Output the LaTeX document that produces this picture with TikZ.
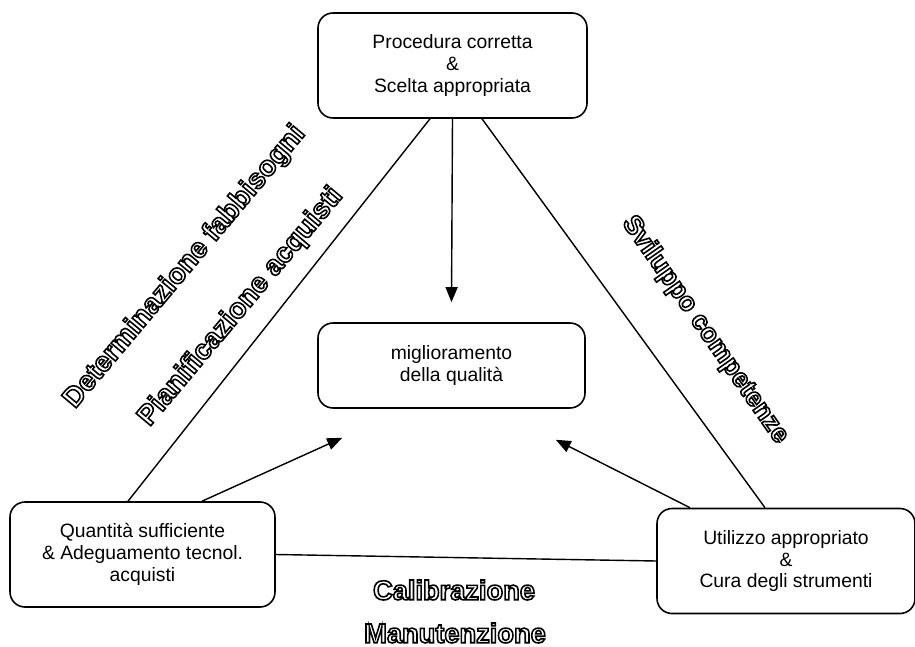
\documentclass[tikz,border=0pt]{standalone}
\usepackage{fontspec}
\setmainfont{Liberation Sans}
\usetikzlibrary{arrows.meta,positioning}
\newcommand{\hollow}[1]{\special{pdf:literal direct 1 Tr 0.9 w}#1\special{pdf:literal direct 0 Tr}}
\tikzset{
  box/.style={draw,rounded corners=0.3cm,line width=0.9pt,align=center,
    minimum height=2.1cm,font=\fontsize{11}{12.5}\selectfont},
  link/.style={line width=0.8pt},
  tip/.style={line width=0.8pt,-{Triangle[length=0.3cm,width=0.24cm]}},
  slogan/.style={font=\fontsize{16}{18}\selectfont\bfseries,inner sep=0pt}
}
\begin{document}
\begin{tikzpicture}
				\useasboundingbox (0,0) rectangle (18.3,12.92);
				\node[box,minimum width=5.38cm] (top) at (9.05,11.61) {Procedura corretta\\ \&\\ Scelta appropriata};
				\node[box,minimum width=5.34cm,minimum height=1.7cm] (mid) at (9.03,5.61) {miglioramento\\ della qualità};
				\node[box,minimum width=5.3cm] (left) at (2.85,1.83) {Quantità sufficiente\\ \& Adeguamento tecnol.\\ acquisti};
				\node[box,minimum width=5.16cm] (right) at (15.72,1.70) {Utilizzo appropriato\\ \&\\ Cura degli strumenti};
				\coordinate[above=0.4cm of mid] (tipv);
				\coordinate (tipl) at ([shift={(0.5,-0.58)}]mid.south west);
				\coordinate (tipr) at ([shift={(-0.6,-0.62)}]mid.south east);
				\draw [link] ([xshift=-0.45cm]top.south) to ([xshift=-0.29cm]left.north);
				\draw [link] ([xshift=0.59cm]top.south) to ([xshift=-0.42cm]right.north);
				\draw [link] (left.east) to (right.west);
				\draw [tip] (top.south) to (tipv);
				\draw [tip] ([xshift=1.19cm]left.north) to (tipl);
				\draw [tip] ([xshift=-1.92cm]right.north) to (tipr);
				\node[slogan,rotate=50] (need) at (3.7,7.58) {\hollow{Determinazione fabbisogni}};
				\node[slogan,rotate=50] (plan) at (4.82,6.78) {\hollow{Pianificazione acquisti}};
				\node[slogan,rotate=-55,font=\fontsize{15}{17}\selectfont\bfseries] (skill) at (14.1,6.32) {\hollow{Sviluppo competenze}};
				\node[slogan,font=\fontsize{15.5}{17}\selectfont\bfseries] (calib) at (9.08,1.12) {\hollow{Calibrazione}};
				\node[slogan,font=\fontsize{15.5}{17}\selectfont\bfseries] (maint) at (9.1,0.26) {\hollow{Manutenzione}};
\end{tikzpicture}
\end{document}
